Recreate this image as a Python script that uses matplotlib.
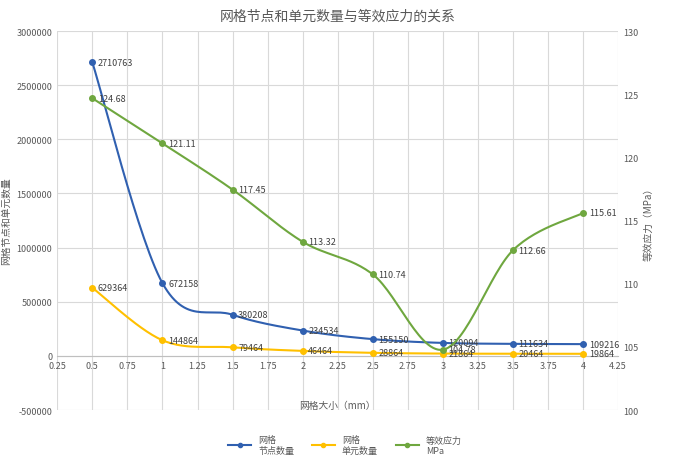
import numpy as np
import matplotlib
matplotlib.use("Agg")
import matplotlib.pyplot as plt

plt.rcParams['font.family'] = ['Noto Sans CJK SC', 'DejaVu Sans']

sizes = [0.5, 1, 1.5, 2, 2.5, 3, 3.5, 4]
nodes = [2710763, 672158, 380208, 234534, 155150, 120094, 111634, 109216]
elems = [629364, 144864, 79464, 46464, 28864, 21864, 20464, 19864]
stress = [124.68, 121.11, 117.45, 113.32, 110.74, 104.78, 112.66, 115.61]

def smooth(x, y, n=30):
    x = np.asarray(x, float); y = np.asarray(y, float)
    px = np.concatenate([[x[0]], x, [x[-1]]]); py = np.concatenate([[y[0]], y, [y[-1]]])
    ox, oy = [], []
    for i in range(1, len(px) - 2):
        t = np.linspace(0, 1, n)
        p0, p1, p2, p3 = [np.array([px[j], py[j]]) for j in (i-1, i, i+1, i+2)]
        c1 = p1 + (p2 - p0) / 6; c2 = p2 - (p3 - p1) / 6
        pts = ((1-t)**3)[:, None]*p1 + (3*(1-t)**2*t)[:, None]*c1 + (3*(1-t)*t**2)[:, None]*c2 + (t**3)[:, None]*p2
        ox.extend(pts[:, 0]); oy.extend(pts[:, 1])
    return ox, oy

blue, orange, green = '#3060B0', '#FFC000', '#6FA73F'
fig = plt.figure(figsize=(6.9, 4.64), dpi=100)
ax = fig.add_axes([0.083, 0.114, 0.813, 0.817])
ax2 = ax.twinx()

for y, c, lab in [(nodes, blue, '网格\n节点数量'), (elems, orange, '网格\n单元数量')]:
    sx, sy = smooth(sizes, y)
    ax.plot(sx, sy, color=c, lw=1.5, zorder=3)
    ax.plot(sizes, y, 'o', color=c, ms=4, zorder=4)
    ax.plot([], [], '-o', color=c, ms=3, lw=1.5, label=lab)
    for xv, yv in zip(sizes, y):
        ax.annotate(str(yv), (xv, yv), xytext=(4, 0), textcoords='offset points', va='center', fontsize=6.5, color='#404040', zorder=5)
sx, sy = smooth(sizes, stress)
ax2.plot(sx, sy, color=green, lw=1.5, zorder=3)
ax2.plot(sizes, stress, 'o', color=green, ms=4, zorder=4)
ax.plot([], [], '-o', color=green, ms=3, lw=1.5, label='等效应力\nMPa')
for xv, yv in zip(sizes, stress):
    ax2.annotate(f'{yv:.2f}', (xv, yv), xytext=(4, 0), textcoords='offset points', va='center', fontsize=6.5, color='#404040', zorder=5)

ax.set_xlim(0.25, 4.25)
ax.set_ylim(-500000, 3000000)
ax2.set_ylim(100, 130)
ax.set_xticks(np.arange(0.25, 4.26, 0.25))
ax.set_xticklabels([f'{v:g}' for v in np.arange(0.25, 4.26, 0.25)])
ax.set_yticks(np.arange(-500000, 3000001, 500000))
ax.set_yticklabels([str(int(v)) for v in np.arange(-500000, 3000001, 500000)])
ax2.set_yticks(range(100, 131, 5))
for a in (ax, ax2):
    a.tick_params(length=0, labelsize=6.5, colors='#595959')
    for s in a.spines.values():
        s.set_visible(False)
ax.spines['bottom'].set_visible(True)
ax.spines['bottom'].set_position(('data', 0))
ax.spines['bottom'].set_color('#BFBFBF')
ax.grid(True, color='#D9D9D9', lw=0.8)
ax.set_axisbelow(True)
ax.set_xlabel('网格大小（mm）', fontsize=7, color='#595959', labelpad=22)
ax.set_ylabel('网格节点和单元数量', fontsize=7, color='#595959')
ax2.set_ylabel('等效应力（MPa）', fontsize=7, color='#595959')
ax.set_title('网格节点和单元数量与等效应力的关系', fontsize=10, color='#595959', pad=8)
fig.legend(loc='lower center', bbox_to_anchor=(0.5, 0.0), ncol=3, frameon=False, fontsize=6.5, labelcolor='#595959', handlelength=2.5)
fig.savefig('out.png', dpi=100)
